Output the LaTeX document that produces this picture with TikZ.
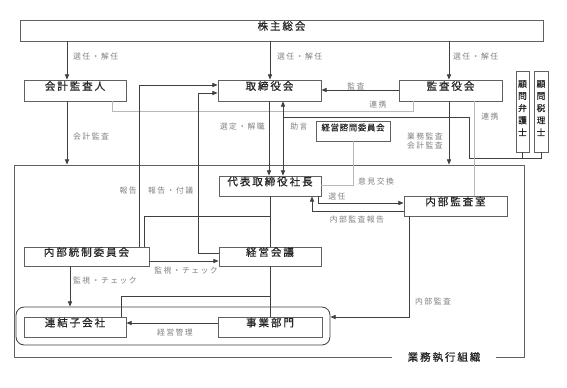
\documentclass[tikz,border=0pt]{standalone}
\usepackage{fontspec}
\newfontfamily\jpbox[LetterSpace=18,FakeBold=0.7]{Noto Sans CJK JP}
\newfontfamily\jpsmall[LetterSpace=8,FakeBold=0.6]{Noto Sans CJK JP}
\newfontfamily\jplabel[LetterSpace=18]{Noto Sans CJK JP}
\newfontfamily\jptate[FakeBold=0.6]{Noto Sans CJK JP}
\usetikzlibrary{arrows.meta,fit}

\definecolor{boxgray}{gray}{0.38}
\definecolor{linegray}{gray}{0.25}
\definecolor{softgray}{gray}{0.72}
\definecolor{labelgray}{gray}{0.5}

\begin{document}
\begin{tikzpicture}[
  x=0.03cm,
  y=-0.03cm,
  >={Triangle[length=4.5pt,width=3.6pt]},
  line join=miter,
  box/.style={draw=boxgray, line width=0.7pt, inner sep=0pt,
    font=\jpbox\fontsize{9}{9}\selectfont, text=black!85},
  tate/.style={box, align=center, font=\jptate\fontsize{7.5}{10.4}\selectfont},
  lbl/.style={inner sep=0pt, text=labelgray, font=\jplabel\fontsize{6.7}{8.4}\selectfont},
  link/.style={draw=linegray, line width=0.7pt},
  soft/.style={draw=softgray, line width=0.7pt}
]
  \useasboundingbox (0,0) rectangle (567,387);

  % boxes
  \node[box, fit={(20,20) (543,41)}] (kabu) {株主総会};
  \node[box, fit={(24,80) (126,101)}] (kaikei) {会計監査人};
  \node[box, fit={(218,80) (321,101)}] (tori) {取締役会};
  \node[box, fit={(399,80) (502,101)}] (kansa) {監査役会};
  \node[tate, fit={(516,71) (529,152)}] (bengo) {顧\\問\\弁\\護\\士};
  \node[tate, fit={(534,71) (548,152)}] (zeiri) {顧\\問\\税\\理\\士};
  \node[box, font=\jpsmall\fontsize{7.2}{7.2}\selectfont,
    fit={(316,121) (390,141)}] (shimon) {経営諮問委員会};

  \node[draw=boxgray, line width=0.7pt, inner sep=0pt,
    fit={(14,165) (524,357)}] (soshiki) {};
  \node[box, draw=none, fill=white, inner xsep=13pt, inner ysep=2pt]
    (soshikilbl) at (444,357) {業務執行組織};

  \node[box, fit={(219,176) (321,196)}] (shacho) {代表取締役社長};
  \node[box, fit={(404,196) (507,216)}] (naibu) {内部監査室};
  \node[box, fit={(24,247) (149,266)}] (tosei) {内部統制委員会};
  \node[box, fit={(219,247) (321,266)}] (keiei) {経営会議};
  \node[draw=linegray, line width=0.7pt, rounded corners=7pt, inner sep=0pt,
    fit={(16,307) (330,345)}] (group) {};
  \node[box, fit={(24,317) (126,337)}] (renketsu) {連結子会社};
  \node[box, fit={(218,317) (322,337)}] (jigyo) {事業部門};

  \coordinate (jogen) at (283,117);
  \coordinate (komon) at (469,158);
  \coordinate (shitato) at (270,216);
  \coordinate (shitake) at (270,296);

  % connectors
  \draw[link,->] (kabu.south -| 67,0) -- (kaikei.north -| 67,0);
  \draw[link,->] (kabu.south -| 270,0) -- (tori.north -| 270,0);
  \draw[link,->] (kabu.south -| 449,0) -- (kansa.north -| 449,0);
  \draw[link,->] (kaikei.south -| 67,0) -- (soshiki.north -| 67,0);
  \draw[soft] (kaikei.south -| 112,0) |- (413,111) -- (kansa.south -| 413,0);
  \draw[link,->] (kansa.west |- 0,90) -- (tori.east |- 0,90);
  \draw[link,->] (tori.south -| 269,0) -- (shacho.north -| 269,0);
  \draw[link,<->] (tori.south -| 283,0) -- (shacho.north -| 283,0);
  \draw[link] (zeiri.south) -- (zeiri.south |- komon) -- (komon) |- (jogen);
  \draw[link] (bengo.south) -- (bengo.south |- komon);
  \draw[link,->] (kansa.south -| 449,0) -- (soshiki.north -| 449,0);
  \draw[soft] (kansa.south -| 474,0) -- (naibu.north -| 474,0);
  \draw[soft] (shimon.south -| 353,0) |- (shacho.east |- 0,185);
  \draw[link,->] (shacho.south -| 318,0) |- (naibu.west |- 0,203);
  \draw[link,->] (naibu.west |- 0,211) -| (shacho.south -| 312,0);
  \draw[link,->] (naibu.south -| 409,0) |- (group.east |- 0,317);
  \draw[link,->] (tosei.north -| 139,0) |- (tori.west |- 0,85);
  \draw[link,->] (keiei.west |- 0,253) -| (198,93) -- (tori.west |- 0,93);
  \draw[link] (shacho.south -| shitato) -- (keiei.north -| shitato);
  \draw[link] (shitato) -| (tosei.north -| 144,0);
  \draw[link] (keiei.south -| shitake) -- (jigyo.north -| shitake);
  \draw[link] (shitake) -| (renketsu.north -| 121,0);
  \draw[link,->] (tosei.east |- 0,261) -- (keiei.west |- 0,261);
  \draw[link,->] (tosei.south -| 70,0) -- (group.north -| 70,0);
  \draw[link,->] (jigyo.west |- 0,323) -- (renketsu.east |- 0,323);

  % labels
  \node[lbl, anchor=west] (lsennin1) at (73,57) {選任・解任};
  \node[lbl, anchor=west] (lsennin2) at (277,57) {選任・解任};
  \node[lbl, anchor=west] (lsennin3) at (453,57) {選任・解任};
  \node[lbl, anchor=west] (lkaikei) at (73,137) {会計監査};
  \node[lbl] (lkansa) at (356,86) {監査};
  \node[lbl] (lrenkei1) at (378,105) {連携};
  \node[lbl, anchor=east] (lsentei) at (265,127) {選定・解職};
  \node[lbl] (ljogen) at (299,127) {助言};
  \node[lbl, anchor=east, align=right] (lgyomu) at (443,141) {業務監査\\会計監査};
  \node[lbl] (lrenkei2) at (490,117) {連携};
  \node[lbl, anchor=west] (liken) at (358,182) {意見交換};
  \node[lbl] (lsennin4) at (337,197) {選任};
  \node[lbl] (lhokoku) at (357,220) {内部監査報告};
  \node[lbl, anchor=west] (lnaibu) at (415,302) {内部監査};
  \node[lbl, anchor=east] (lhokoku1) at (137,191) {報告};
  \node[lbl, anchor=west] (lhokoku2) at (148,191) {報告・付議};
  \node[lbl] (lkanshi1) at (186,271) {監視・チェック};
  \node[lbl, anchor=west] (lkanshi2) at (73,281) {監視・チェック};
  \node[lbl] (lkanri) at (175,332) {経営管理};
\end{tikzpicture}
\end{document}
